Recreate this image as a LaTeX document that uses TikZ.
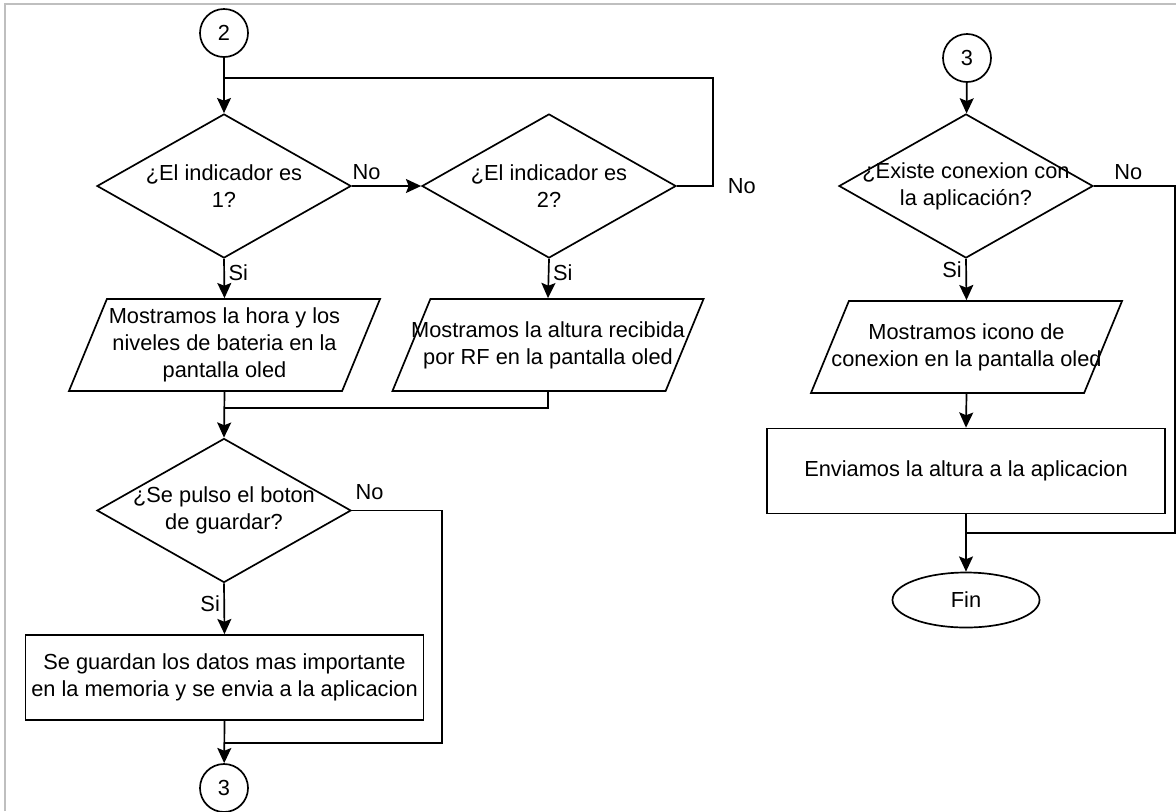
\documentclass[tikz,border=0pt]{standalone}
\usepackage{fontspec}
\setmainfont{Liberation Sans}
\usetikzlibrary{shapes.geometric,arrows.meta}

\begin{document}
\begin{tikzpicture}[x=0.025cm,y=-0.025cm,line width=1.2pt,
        font=\fontsize{15.5}{19.2}\selectfont,
        conn/.style={draw,circle,minimum size=1.2cm,inner sep=0pt},
        decision/.style={draw,diamond,aspect=1.77,minimum width=6.35cm,minimum height=3.6cm,inner sep=0pt},
        io/.style={draw,trapezium,trapezium left angle=67.6,trapezium right angle=112.4,
            trapezium stretches body,minimum width=7.775cm,inner xsep=0pt,inner ysep=1.15cm},
        process/.style={draw,rectangle,minimum width=9.95cm,minimum height=2.125cm,align=center},
        txt/.style={label={[align=center]center:#1}},
        flow/.style={-{Stealth[length=0.38cm,width=0.35cm,inset=0.07cm]}},
        lbl/.style={inner sep=2.5pt}]
        \useasboundingbox (0,0) rectangle (1176,811);
        \draw[line width=0.8pt,black!25] (5,811) -- (5,4) -- (1176,4);

        \node[conn] (in2) at (224,33) {2};
        \node[decision,txt={¿El indicador es\\1?}] (ind1) at (224,186) {};
        \node[decision,txt={¿El indicador es\\2?}] (ind2) at (549,186) {};
        \node[io,txt={Mostramos la hora y los\\niveles de bateria en la\\pantalla oled}] (hora) at (224.5,345) {};
        \node[io,txt={Mostramos la altura recibida\\por RF en la pantalla oled}] (altura) at (548,345) {};
        \node[decision,txt={¿Se pulso el boton\\de guardar?}] (boton) at (224,510.5) {};
        \node[process] (guardar) at (224.5,677.5) {Se guardan los datos mas importante\\en la memoria y se envia a la aplicacion};
        \node[conn] (out3) at (224,788) {3};
        \coordinate (j1) at (224,78);
        \coordinate (j2) at (224,408);
        \coordinate (j3) at (224,743);

        \node[conn] (in3) at (967,58) {3};
        \node[decision,txt={¿Existe conexion con\\la aplicación?}] (app) at (966,186) {};
        \node[io,txt={Mostramos icono de\\conexion en la pantalla oled}] (icono) at (966.5,347) {};
        \node[process] (enviar) at (966,471) {Enviamos la altura a la aplicacion};
        \node[draw,ellipse,minimum width=3.675cm,minimum height=1.375cm,inner sep=0pt] (fin) at (966,600) {Fin};
        \coordinate (j4) at (966,533);

        \draw[flow] (in2) -- (ind1);
        \draw (ind2.east) -- ++(36,0) node[right,inner sep=10pt] {No} |- (j1);
        \draw[flow] (ind1.east) -- node[pos=0,above right,inner sep=4pt,xshift=-4pt] {No} (ind2.west);
        \draw[flow] (ind1.south) -- node[pos=0.34,right,lbl] {Si} (hora.north);
        \draw[flow] (ind2.south) -- node[pos=0.34,right,lbl] {Si} (altura.north);
        \draw[flow] (hora.south) -- (boton.north);
        \draw (altura.south) |- (j2);
        \draw (boton.east) -- node[pos=0,above right,inner sep=7pt,xshift=-5pt] {No} ++(90,0) |- (j3);
        \draw[flow] (boton.south) -- node[pos=0.4,left,lbl] {Si} (guardar.north);
        \draw[flow] (guardar.south) -- (out3);

        \draw[flow] (in3) -- (app);
        \draw (app.east) -- node[pos=0,above right,inner sep=4pt,xshift=10pt] {No} ++(81,0) |- (j4);
        \draw[flow] (app.south) -- node[pos=0.27,left,lbl] {Si} (icono.north);
        \draw[flow] (icono.south) -- (enviar.north);
        \draw[flow] (enviar.south) -- (fin.north);
\end{tikzpicture}
\end{document}
